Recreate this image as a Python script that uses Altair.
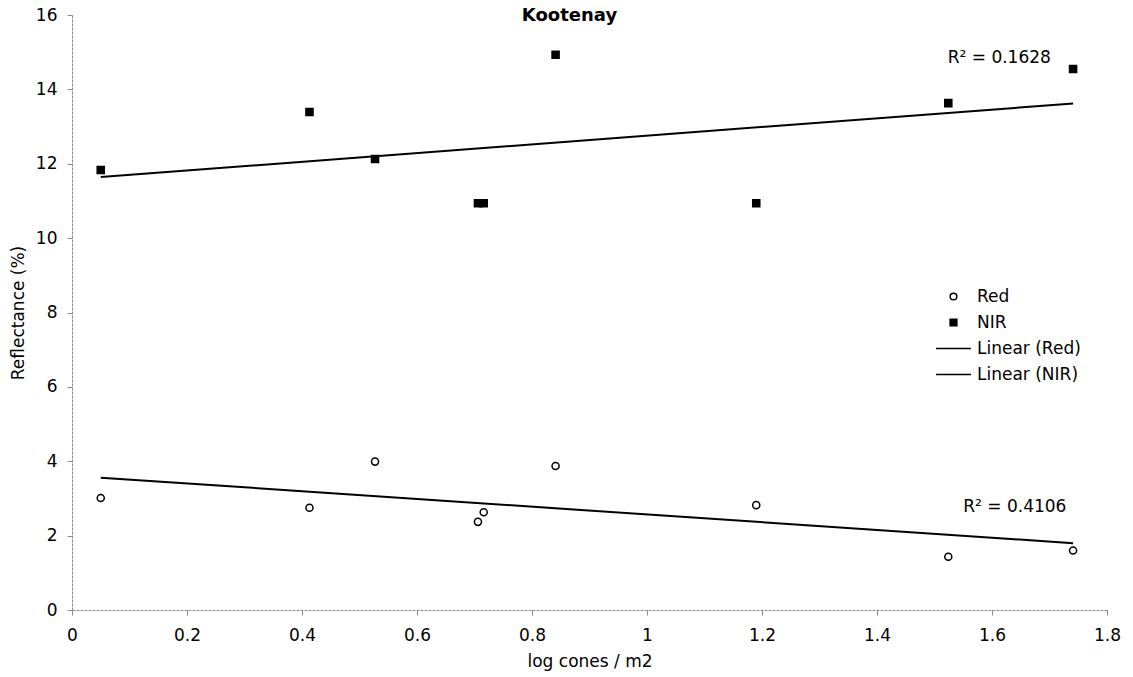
import altair as alt
import pandas as pd

# ---- data ----
log_cones = [0.05, 0.413, 0.527, 0.706, 0.716, 0.841, 1.19, 1.524, 1.741]
red = [3.01, 2.75, 3.99, 2.37, 2.63, 3.87, 2.82, 1.43, 1.60]
nir = [11.83, 13.39, 12.13, 10.94, 10.94, 14.93, 10.94, 13.63, 14.55]
series_names = ["Red", "NIR"]
legend_names = ["Red", "NIR", "Linear (Red)", "Linear (NIR)"]
x_ticks = [0, 0.2, 0.4, 0.6, 0.8, 1.0, 1.2, 1.4, 1.6, 1.8]
y_ticks = [0, 2, 4, 6, 8, 10, 12, 14, 16]
r2_labels = ["R\u00b2 = 0.1628", "R\u00b2 = 0.4106"]
r2_x = [1.523, 1.55]
r2_y = [14.84, 2.77]

rows = []
for name, vals in zip(series_names, [red, nir]):
    for xv, yv in zip(log_cones, vals):
        rows.append({"x": xv, "y": yv, "series": name})
df = pd.DataFrame(rows)
ann = pd.DataFrame({"x": r2_x, "y": r2_y, "label": r2_labels})

FONT = "DejaVu Sans"
LINE = "M-5.2,0L5.2,0"

xscale = alt.Scale(domain=[0, 1.8], nice=False, zero=False)
yscale = alt.Scale(domain=[0, 16], nice=False)

xaxis = alt.Axis(values=x_ticks, format="~f", grid=False, tickSize=5, labelPadding=12,
                 titlePadding=10, labelFlush=False)
yaxis = alt.Axis(values=y_ticks, format="~f", grid=False, tickSize=5, labelPadding=10,
                 titlePadding=8, labelFlush=False)

leg = alt.Legend(title=None, orient="none", legendX=873, legendY=273,
                 labelFontSize=17, labelFont=FONT, labelColor="black",
                 symbolSize=45, symbolStrokeColor="black", symbolStrokeWidth=1.5,
                 labelOffset=15, rowPadding=8)

points = alt.Chart(df).mark_point(filled=True, strokeWidth=1.5,
                                  opacity=1, size=50).encode(
    x=alt.X("x:Q", scale=xscale, axis=xaxis, title="log cones / m2"),
    y=alt.Y("y:Q", scale=yscale, axis=yaxis, title="Reflectance (%)"),
    shape=alt.Shape("series:N", scale=alt.Scale(domain=legend_names,
                    range=["circle", "square", LINE, LINE]), legend=leg),
    fill=alt.Fill("series:N", scale=alt.Scale(domain=legend_names,
                  range=["white", "black", "white", "white"]), legend=leg),
    stroke=alt.Stroke("series:N", scale=alt.Scale(domain=legend_names,
                      range=["black", "black", "black", "black"]), legend=leg),
)

trend = alt.Chart(df).transform_regression(
    "x", "y", groupby=["series"]
).mark_line(color="black", strokeWidth=2).encode(
    x="x:Q", y="y:Q", detail="series:N"
)

labels = alt.Chart(ann).mark_text(align="left", baseline="middle", fontSize=17,
                                  font=FONT, color="black").encode(
    x="x:Q", y="y:Q", text="label:N"
)

chart = alt.layer(trend, points, labels).properties(
    width=1035, height=595,
    autosize=alt.AutoSizeParams(type="none"),
    padding={"left": 72, "top": 15, "right": 26, "bottom": 67},
    title=alt.TitleParams("Kootenay", font=FONT, fontSize=18, fontWeight="bold",
                          color="black", anchor="middle", dx=-20, dy=21, offset=-7,
                          baseline="middle"),
    background="white",
).configure_view(stroke=None).configure_axis(
    labelFont=FONT, labelFontSize=17, labelColor="black",
    titleFont=FONT, titleFontSize=17, titleFontWeight="normal", titleColor="black",
    domainColor="#8a8a8a", domainWidth=1, domainDash=[3, 1],
    tickColor="#8a8a8a", tickWidth=1,
)

chart.save("out.html", embed_options={"renderer": "svg", "actions": False})
